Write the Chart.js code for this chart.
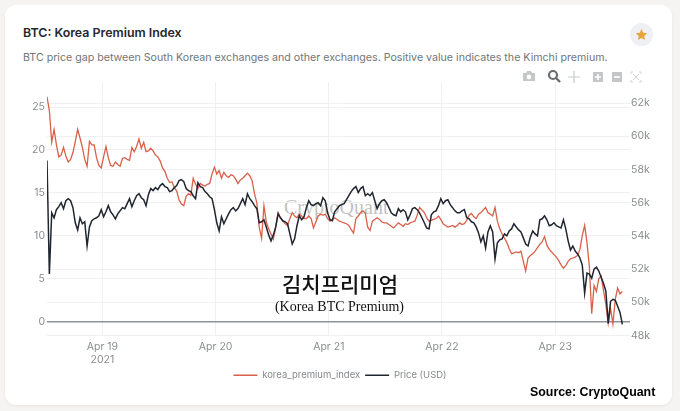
<!DOCTYPE html>
<html>
<head>
<meta charset="utf-8">
<script src="https://cdn.jsdelivr.net/npm/chart.js@4"></script>
<style>
  html, body { margin: 0; padding: 0; width: 680px; height: 411px; overflow: hidden; background: #f5f4f2; }
  #card { position: absolute; left: 5px; top: 5px; width: 667px; height: 400px; background: #fff; border-radius: 11px; box-shadow: 0 1px 3px rgba(0,0,0,.06); }
  #lineChart { position: absolute; left: 0; top: 0; }
  .txt { position: absolute; white-space: nowrap; font-family: Inter, "Noto Sans", sans-serif; }
  #title { left: 23px; top: 25px; font-size: 12.4px; font-weight: 600; color: #24272c; }
  #sub { left: 23px; top: 51px; font-size: 10.65px; color: #72767b; }
  #mark { left: 284px; top: 196px; font-family: "Liberation Serif", serif; font-size: 20px; color: rgba(140,140,140,.55); }
  #kr { left: 340px; top: 269px; transform: translateX(-50%); font-family: "Noto Sans CJK KR", sans-serif; font-weight: 500; font-size: 21px; color: #111; line-height: 28px; }
  #en { left: 339.5px; top: 299px; transform: translateX(-50%); font-family: "Liberation Serif", serif; font-size: 14px; color: #111; }
  #source { left: 530px; top: 385px; font-family: "Liberation Sans", sans-serif; font-weight: 700; font-size: 12.4px; color: #000; }
  #star { position: absolute; left: 630px; top: 23px; width: 23px; height: 23px; border-radius: 50%; background: #eef0f4; }
  #tools { position: absolute; left: 520px; top: 68px; }
</style>
</head>
<body>
<div id="card"></div>
<div class="txt" id="title">BTC: Korea Premium Index</div>
<div class="txt" id="sub">BTC price gap between South Korean exchanges and other exchanges. Positive value indicates the Kimchi premium.</div>
<div class="txt" id="mark">CryptoQuant</div>
<div id="star"><svg width="23" height="23" viewBox="0 0 23 23"><path d="M11.5 6l1.7 3.7 4 .5-3 2.7.8 4-3.5-2-3.5 2 .8-4-3-2.7 4-.5z" fill="#e8a33c"/></svg></div>
<svg id="tools" width="126" height="18" viewBox="0 0 126 18">
  <path d="M3 5h3l1-2h4l1 2h3v8H3z" fill="#c4c6c8"/><circle cx="9" cy="9" r="2.4" fill="#fff"/>
  <circle cx="33" cy="7" r="4" fill="none" stroke="#6a6d70" stroke-width="2.2"/><path d="M36 10l4 4" stroke="#6a6d70" stroke-width="2.4"/>
  <path d="M54 3v12M48 9h12" stroke="#c8cacc" stroke-width="1.2"/>
  <rect x="73" y="4" width="10" height="10" fill="#c4c6c8"/><path d="M78 6v6M75 9h6" stroke="#fff" stroke-width="1.6"/>
  <rect x="92" y="4" width="10" height="10" fill="#c4c6c8"/><path d="M94 9h6" stroke="#fff" stroke-width="1.6"/>
  <path d="M111 6V4h2M119 4h2v2M121 12v2h-2M113 14h-2v-2M113 6l6 6M119 6l-6 6" fill="none" stroke="#d0d2d4" stroke-width="1"/>
</svg>
<canvas id="lineChart" width="680" height="411"></canvas>
<div class="txt" id="kr">김치프리미엄</div>
<div class="txt" id="en">(Korea BTC Premium)</div>
<div class="txt" id="source">Source: CryptoQuant</div>
<script>
// hours counted from Apr 18 00:00, one reading every half hour
const startHour = 12.25;
const stepHour = 0.5;
const dayTicks = [24, 48, 72, 96, 120];
const dayLabels = [['Apr 19', '2021'], 'Apr 20', 'Apr 21', 'Apr 22', 'Apr 23'];
const premiumTicks = [0, 5, 10, 15, 20, 25];
const priceTicks = [48000, 50000, 52000, 54000, 56000, 58000, 60000, 62000];

const premiumValues = [
  26.2, 24.6, 20.9, 22.4, 20.6, 19.2, 19.4, 20.3, 19.3, 18.6,
  18.9, 19.7, 21.0, 22.4, 21.4, 20.3, 18.9, 18.1, 21.0, 20.6,
  20.6, 19.1, 18.2, 17.9, 19.2, 20.4, 19.1, 18.2, 18.1, 18.6,
  18.3, 18.1, 19.0, 19.1, 18.9, 18.8, 20.3, 19.8, 20.4, 21.3,
  20.2, 20.9, 19.8, 19.9, 20.2, 19.9, 19.4, 19.2, 18.7, 17.9,
  17.5, 16.7, 16.2, 16.3, 15.6, 15.2, 14.2, 13.7, 13.5, 14.6,
  14.9, 14.7, 16.7, 16.0, 15.5, 16.1, 15.9, 15.8, 16.0, 16.1,
  17.2, 18.0, 17.2, 17.6, 16.7, 17.4, 17.0, 16.8, 17.1, 17.0,
  16.6, 16.1, 16.5, 16.7, 17.0, 17.3, 17.0, 16.4, 14.9, 13.8,
  11.0, 9.7, 13.5, 11.6, 10.8, 10.2, 9.6, 11.0, 12.7, 12.1,
  11.7, 11.4, 11.2, 12.0, 12.7, 12.3, 12.1, 12.5, 12.3, 12.0,
  12.0, 12.3, 12.0, 10.9, 11.6, 12.3, 12.5, 12.4, 12.5, 12.0,
  11.7, 11.9, 12.1, 11.9, 11.7, 11.6, 11.5, 11.4, 11.2, 10.7,
  10.3, 12.0, 12.3, 12.7, 12.9, 12.6, 11.0, 10.6, 11.7, 11.9,
  12.1, 11.9, 11.6, 11.5, 11.5, 11.3, 11.1, 10.9, 11.2, 11.5,
  11.3, 11.1, 11.4, 11.3, 11.5, 11.6, 11.7, 12.4, 13.3, 13.0,
  12.7, 12.1, 11.7, 11.8, 11.9, 12.0, 12.3, 11.9, 11.4, 11.2,
  11.0, 11.1, 11.2, 11.0, 11.2, 11.5, 11.3, 11.4, 11.8, 12.4,
  12.6, 12.2, 12.0, 12.5, 12.7, 13.0, 13.3, 12.7, 12.5, 12.3,
  13.3, 11.7, 10.8, 10.2, 9.7, 9.2, 8.5, 7.9, 8.0, 8.1,
  8.0, 8.2, 7.0, 5.9, 7.4, 7.7, 7.9, 8.2, 8.6, 9.0,
  9.3, 9.9, 8.9, 8.4, 8.1, 7.8, 7.5, 7.1, 6.6, 6.2,
  6.5, 7.0, 7.3, 7.4, 7.5, 7.7, 8.4, 10.0, 11.2, 9.2,
  6.4, 0.9, 4.2, 3.5, 5.0, 5.3, 3.6, 2.0, -0.2, 1.5,
  -0.3, 2.6, 3.9, 3.2, 3.5
];

const priceValues = [
  58540, 51700, 55390, 55090, 55580, 55760, 56000, 55640, 56120, 56240,
  56120, 55700, 54790, 54360, 55090, 54730, 54850, 53390, 54540, 54910,
  55030, 55090, 55210, 55580, 55150, 55450, 55820, 55450, 55270, 55030,
  55330, 55510, 55700, 55640, 55940, 56240, 55760, 56120, 56420, 56540,
  56300, 56180, 55820, 56480, 56850, 56730, 56910, 56790, 57030, 57150,
  56970, 56910, 56670, 56730, 56910, 57030, 57330, 57390, 57270, 56850,
  56730, 56670, 56420, 56240, 57210, 56970, 56910, 56670, 56540, 56360,
  56240, 55580, 54790, 54300, 55150, 54730, 55030, 55330, 55580, 55700,
  55510, 55640, 55940, 56240, 55880, 56540, 56240, 56060, 55820, 55640,
  54790, 54850, 54970, 54540, 54060, 53700, 54060, 54540, 55330, 55090,
  54910, 54850, 54730, 54120, 53510, 53820, 54610, 55210, 54970, 55150,
  55700, 56120, 55880, 55820, 55940, 56000, 55820, 56300, 56120, 55390,
  54970, 54910, 55450, 55640, 55820, 55880, 55940, 56180, 56420, 56670,
  56850, 56970, 56610, 56850, 56970, 56420, 56540, 56420, 56610, 56120,
  55640, 55940, 56120, 56180, 56000, 55700, 55390, 55270, 55210, 55640,
  55450, 55580, 55450, 54970, 55270, 55640, 55700, 55580, 55390, 55090,
  54790, 54480, 54420, 55270, 55450, 55510, 55820, 56240, 55940, 56120,
  56180, 55880, 55700, 55510, 55390, 55390, 55510, 55580, 55090, 55030,
  54850, 54790, 54540, 54180, 53640, 54000, 53270, 54240, 54610, 54240,
  52610, 53580, 53760, 53820, 54120, 54000, 54300, 54420, 54730, 54540,
  54360, 54240, 53880, 53510, 53390, 53940, 54300, 54120, 54000, 54970,
  55030, 55210, 54970, 54610, 54670, 54790, 54610, 54540, 54480, 54970,
  54420, 53700, 53150, 53390, 53090, 52910, 52670, 52240, 50550, 51760,
  51700, 51450, 52000, 52120, 51880, 51510, 51150, 50670, 48730, 50060,
  50180, 50120, 49760, 49390, 48670
];

const toPoints = values => values.map((v, i) => ({ x: startHour + i * stepHour, y: v }));

const tickFont = { family: 'Inter, "Noto Sans", sans-serif', size: 10.5 };
const tickColor = '#8a8d90';
const gridColor = '#f0f0f1';

new Chart(document.getElementById('lineChart'), {
  type: 'line',
  data: {
    datasets: [{
      label: 'korea_premium_index',
      data: toPoints(premiumValues),
      yAxisID: 'y',
      borderColor: '#d9604a',
      backgroundColor: '#d9604a',
      borderWidth: 1.3,
      pointRadius: 0,
      order: 2
    }, {
      label: 'Price (USD)',
      data: toPoints(priceValues),
      yAxisID: 'y2',
      borderColor: '#20262f',
      backgroundColor: '#20262f',
      borderWidth: 1.5,
      pointRadius: 0,
      order: 1
    }]
  },
  options: {
    responsive: false,
    animation: false,
    layout: { padding: { top: 82, bottom: 21, left: 0, right: 0 } },
    plugins: {
      tooltip: { enabled: false },
      legend: {
        position: 'bottom',
        labels: {
          boxWidth: 24,
          boxHeight: 0,
          padding: 5,
          color: '#85888b',
          font: { family: tickFont.family, size: 9.5 },
          sort: (a, b) => a.datasetIndex - b.datasetIndex
        }
      }
    },
    scales: {
      x: {
        type: 'linear',
        min: startHour,
        max: 135.87,
        afterBuildTicks: axis => { axis.ticks = dayTicks.map(v => ({ value: v })); },
        afterFit: axis => { axis.height = 30; },
        border: { display: false },
        grid: { color: gridColor, drawTicks: false },
        ticks: {
          autoSkip: false,
          maxRotation: 0,
          padding: 5,
          color: tickColor,
          font: tickFont,
          callback: value => dayLabels[dayTicks.indexOf(value)]
        }
      },
      y: {
        position: 'left',
        min: -1.64,
        max: 27.93,
        afterBuildTicks: axis => { axis.ticks = premiumTicks.map(v => ({ value: v })); },
        afterFit: axis => { axis.width = 47; },
        border: { display: false },
        grid: {
          drawTicks: false,
          color: ctx => ctx.tick && ctx.tick.value === 0 ? '#8f9296' : gridColor,
          lineWidth: ctx => ctx.tick && ctx.tick.value === 0 ? 1.5 : 1
        },
        ticks: { padding: 2, color: tickColor, font: tickFont }
      },
      y2: {
        position: 'right',
        min: 48000,
        max: 63270,
        afterBuildTicks: axis => { axis.ticks = priceTicks.map(v => ({ value: v })); },
        afterFit: axis => { axis.width = 50; },
        border: { display: false },
        grid: { drawTicks: false, color: gridColor },
        ticks: {
          padding: 1,
          color: tickColor,
          font: tickFont,
          callback: value => (value / 1000) + 'k'
        }
      }
    }
  }
});
</script>
</body>
</html>
